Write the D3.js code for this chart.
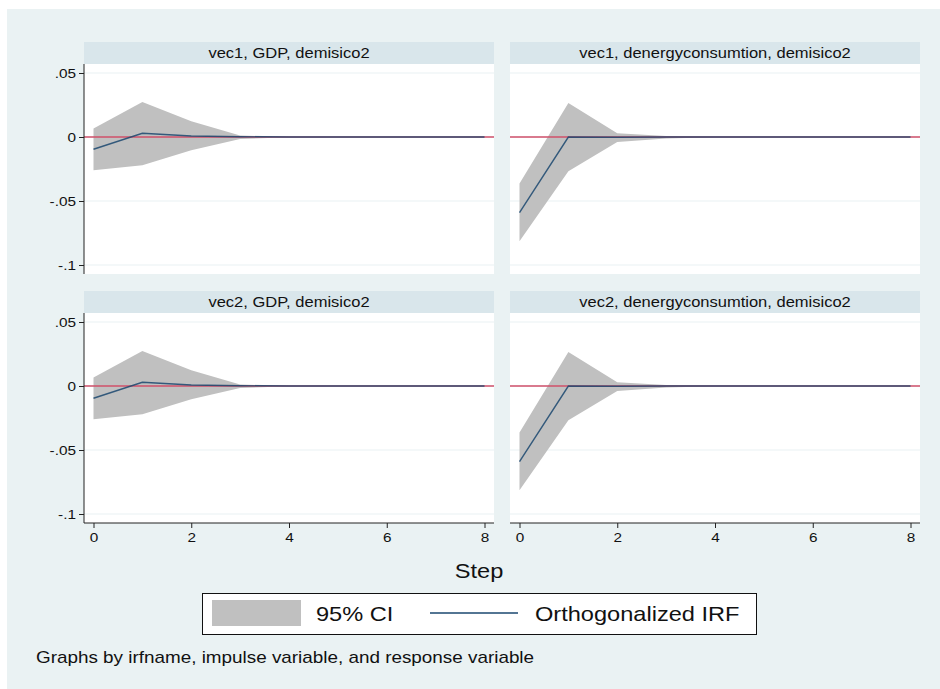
<!DOCTYPE html>
<html>
<head>
<meta charset="utf-8">
<script src="https://cdn.jsdelivr.net/npm/d3@7"></script>
<style>
  body { margin: 0; background: #fff; }
  text { font-family: "Liberation Sans", Arial, sans-serif; }
</style>
</head>
<body>
<div id="chart"></div>
<script>
// steps of the impulse response
var steps = [0, 1, 2, 3, 4, 5, 6, 7, 8];
var xTicks = [0, 2, 4, 6, 8];
var yTicks = [0.05, 0, -0.05, -0.1];
var yTickLabels = [".05", "0", "-.05", "-.1"];

var panelTitles = [
  "vec1, GDP, demisico2",
  "vec1, denergyconsumtion, demisico2",
  "vec2, GDP, demisico2",
  "vec2, denergyconsumtion, demisico2"
];

// vec1, GDP
var irf1 = [-0.0096, 0.0029, 0.0008, 0.0002, 0, 0, 0, 0, 0];
var upper1 = [0.0066, 0.0273, 0.0123, 0.0012, 0.0002, 0, 0, 0, 0];
var lower1 = [-0.026, -0.0221, -0.0104, -0.0015, -0.0002, 0, 0, 0, 0];
// vec1, denergyconsumtion
var irf2 = [-0.059, 0, -0.0002, 0, 0, 0, 0, 0, 0];
var upper2 = [-0.0364, 0.0266, 0.003, 0.0008, 0.0001, 0, 0, 0, 0];
var lower2 = [-0.0815, -0.0268, -0.0039, -0.0012, -0.0002, 0, 0, 0, 0];
// vec2, GDP
var irf3 = [-0.0096, 0.0029, 0.0008, 0.0002, 0, 0, 0, 0, 0];
var upper3 = [0.0066, 0.0273, 0.0123, 0.0012, 0.0002, 0, 0, 0, 0];
var lower3 = [-0.026, -0.0221, -0.0104, -0.0015, -0.0002, 0, 0, 0, 0];
// vec2, denergyconsumtion
var irf4 = [-0.059, 0, -0.0002, 0, 0, 0, 0, 0, 0];
var upper4 = [-0.0364, 0.0266, 0.003, 0.0008, 0.0001, 0, 0, 0, 0];
var lower4 = [-0.0815, -0.0268, -0.0039, -0.0012, -0.0002, 0, 0, 0, 0];

var legendLabels = ["95% CI", "Orthogonalized IRF"];

// the original graph's text is a bit wider than Arial, stretch it horizontally
var textStretch = 1.18;
function stretch(sel) {
  sel.each(function() {
    var t = d3.select(this);
    var x = +t.attr("x") || 0, y = +t.attr("y") || 0;
    t.attr("x", 0).attr("y", 0)
      .attr("transform", `translate(${x}, ${y}) scale(${textStretch}, 1)`);
  });
}

var svgWidth = 940, svgHeight = 689;
var svg = d3.select("#chart").append("svg")
  .attr("width", svgWidth)
  .attr("height", svgHeight);

// outer graph region
svg.append("rect")
  .attr("x", 7).attr("y", 9)
  .attr("width", svgWidth - 7).attr("height", svgHeight - 9)
  .attr("fill", "#eaf2f3");

var panelW = 410, plotH = 210, headerH = 22;
var panels = [
  { x0: 84, top: 42, title: panelTitles[0], irf: irf1, up: upper1, lo: lower1, yaxis: true, xaxis: false },
  { x0: 510, top: 42, title: panelTitles[1], irf: irf2, up: upper2, lo: lower2, yaxis: false, xaxis: false },
  { x0: 84, top: 291, title: panelTitles[2], irf: irf3, up: upper3, lo: lower3, yaxis: true, xaxis: true },
  { x0: 510, top: 291, title: panelTitles[3], irf: irf4, up: upper4, lo: lower4, yaxis: false, xaxis: true }
];

panels.forEach(function(p) {
  var g = svg.append("g").attr("transform", `translate(${p.x0}, ${p.top})`);
  var plotTop = headerH;

  var x = d3.scaleLinear().domain([0, 8]).range([9.5, 400.5]);
  var y = d3.scaleLinear().domain([0.05, -0.1]).range([plotTop + 9, plotTop + 201]);

  // header strip
  g.append("rect")
    .attr("x", 0).attr("y", 0)
    .attr("width", panelW).attr("height", headerH)
    .attr("fill", "#d9e6eb");
  g.append("text")
    .attr("x", panelW / 2).attr("y", 16)
    .attr("text-anchor", "middle")
    .attr("font-size", "14px")
    .attr("fill", "#111")
    .text(p.title)
    .call(stretch);

  // plot region
  g.append("rect")
    .attr("x", 0).attr("y", plotTop)
    .attr("width", panelW).attr("height", plotH)
    .attr("fill", "#fff");

  // grid lines
  g.selectAll(".grid")
    .data(yTicks)
    .enter()
    .append("line")
    .attr("x1", 0).attr("x2", panelW)
    .attr("y1", d => y(d)).attr("y2", d => y(d))
    .attr("stroke", "#eaf2f3")
    .attr("stroke-width", 1.2);

  // confidence band
  var band = d3.area()
    .x((d, i) => x(steps[i]))
    .y0((d, i) => y(p.lo[i]))
    .y1((d, i) => y(p.up[i]));
  g.append("path")
    .datum(steps)
    .attr("d", band)
    .attr("fill", "#c0c0c0");

  // zero line
  g.append("line")
    .attr("x1", 0).attr("x2", panelW)
    .attr("y1", y(0)).attr("y2", y(0))
    .attr("stroke", "#d0506a")
    .attr("stroke-width", 1.3);

  // IRF line
  var line = d3.line()
    .x((d, i) => x(steps[i]))
    .y((d, i) => y(p.irf[i]));
  g.append("path")
    .datum(steps)
    .attr("d", line)
    .attr("fill", "none")
    .attr("stroke", "#1a476f")
    .attr("stroke-opacity", 0.85)
    .attr("stroke-width", 1.4);

  if (p.yaxis) {
    var yAxis = d3.axisLeft(y)
      .tickValues(yTicks)
      .tickFormat((d, i) => yTickLabels[i])
      .tickSize(5)
      .tickPadding(3);
    var ya = g.append("g").call(yAxis);
    ya.select(".domain").remove();
    ya.selectAll("text").attr("font-size", "13px").attr("fill", "#111")
      .style("font-family", "'Liberation Sans', Arial, sans-serif")
      .call(stretch);
    ya.selectAll("line").attr("stroke", "#222");
    g.append("line")
      .attr("x1", 0).attr("x2", 0)
      .attr("y1", plotTop).attr("y2", plotTop + plotH)
      .attr("stroke", "#222").attr("stroke-width", 1);
  }

  if (p.xaxis) {
    var xAxis = d3.axisBottom(x)
      .tickValues(xTicks)
      .tickFormat(d3.format("d"))
      .tickSize(5)
      .tickPadding(5);
    var xa = g.append("g")
      .attr("transform", `translate(0, ${plotTop + plotH})`)
      .call(xAxis);
    xa.select(".domain").remove();
    xa.selectAll("text").attr("font-size", "13px").attr("fill", "#111")
      .style("font-family", "'Liberation Sans', Arial, sans-serif")
      .call(stretch);
    xa.selectAll("line").attr("stroke", "#222");
    g.append("line")
      .attr("x1", 0).attr("x2", panelW)
      .attr("y1", plotTop + plotH).attr("y2", plotTop + plotH)
      .attr("stroke", "#222").attr("stroke-width", 1);
  }
});

// x axis title
svg.append("text")
  .attr("x", 479).attr("y", 578)
  .attr("text-anchor", "middle")
  .attr("font-size", "20px")
  .attr("fill", "#111")
  .text("Step")
  .call(stretch);

// legend
var legend = svg.append("g");
legend.append("rect")
  .attr("x", 202.5).attr("y", 593.5)
  .attr("width", 554).attr("height", 41)
  .attr("fill", "#fff")
  .attr("stroke", "#111")
  .attr("stroke-width", 1);
legend.append("rect")
  .attr("x", 212).attr("y", 600)
  .attr("width", 89).attr("height", 26)
  .attr("fill", "#c0c0c0");
legend.append("text")
  .attr("x", 316).attr("y", 621)
  .attr("font-size", "20px")
  .attr("fill", "#111")
  .text(legendLabels[0])
  .call(stretch);
legend.append("line")
  .attr("x1", 430).attr("x2", 518)
  .attr("y1", 613).attr("y2", 613)
  .attr("stroke", "#1a476f")
  .attr("stroke-width", 1.5);
legend.append("text")
  .attr("x", 535).attr("y", 621)
  .attr("font-size", "20px")
  .attr("fill", "#111")
  .text(legendLabels[1])
  .call(stretch);

// note
svg.append("text")
  .attr("x", 36).attr("y", 663)
  .attr("font-size", "16px")
  .attr("fill", "#111")
  .text("Graphs by irfname, impulse variable, and response variable")
  .call(stretch);
</script>
</body>
</html>
